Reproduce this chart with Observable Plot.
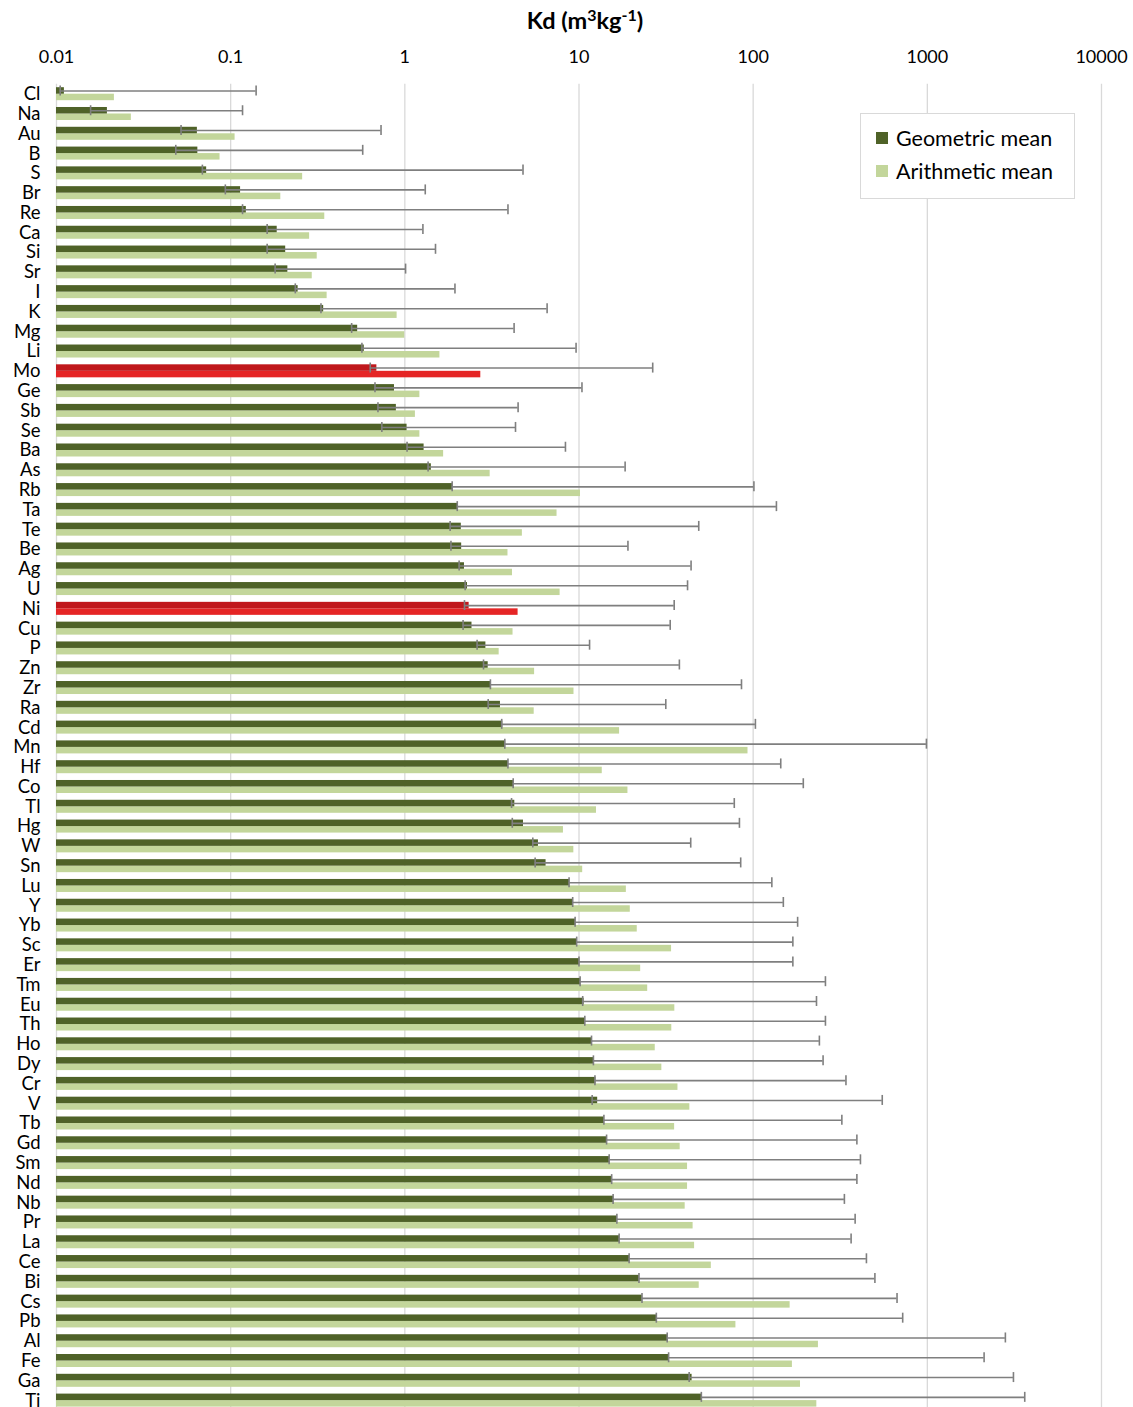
<!DOCTYPE html>
<html>
<head>
<meta charset="utf-8">
<script src="https://cdn.jsdelivr.net/npm/d3@7"></script>
<script src="https://cdn.jsdelivr.net/npm/@observablehq/plot@0.6"></script>
<style>
  html, body { margin: 0; padding: 0; background: #fff; font-family: Lato, "Open Sans", sans-serif; }
  #wrap { position: relative; width: 1133px; height: 1410px; overflow: hidden; }
  #title { height: 38px; line-height: 40px; padding-left: 37px; text-align: center;
           font-weight: bold; font-size: 23.5px; color: #000; white-space: nowrap; }
  #title sup { font-size: 16px; vertical-align: 8px; line-height: 0; }
  #chart { display: block; }
  #chart svg { display: block; }
  #legend { position: absolute; left: 860px; top: 113px; width: 213px; height: 84px; border: 1.5px solid #d9d9d9;
            background: #fff; font-size: 21.5px; color: #000; }
  .item { position: absolute; left: 15px; display: flex; align-items: center; white-space: nowrap; }
  .sw { width: 12px; height: 12px; margin-right: 8px; }
</style>
</head>
<body>
<div id="wrap">
  <div id="title">Kd (m<sup>3</sup>kg<sup>-1</sup>)</div>
  <div id="chart"></div>
  <div id="legend"></div>
</div>
<script>
// Distribution coefficients per element, in m3/kg
const elements = ["Cl","Na","Au","B","S","Br","Re","Ca","Si","Sr",
  "I","K","Mg","Li","Mo","Ge","Sb","Se","Ba","As",
  "Rb","Ta","Te","Be","Ag","U","Ni","Cu","P","Zn",
  "Zr","Ra","Cd","Mn","Hf","Co","Tl","Hg","W","Sn",
  "Lu","Y","Yb","Sc","Er","Tm","Eu","Th","Ho","Dy",
  "Cr","V","Tb","Gd","Sm","Nd","Nb","Pr","La","Ce",
  "Bi","Cs","Pb","Al","Fe","Ga","Ti"];

const geometric = [0.0111,0.0196,0.0644,0.0648,0.0728,0.114,0.123,0.185,0.207,0.213,
  0.244,0.342,0.536,0.585,0.691,0.872,0.894,1.03,1.29,1.42,
  1.88,2.01,2.11,2.12,2.20,2.29,2.34,2.43,2.92,3.01,
  3.13,3.54,3.65,3.79,3.93,4.22,4.28,4.80,5.85,6.47,
  8.84,9.25,9.54,9.76,10.1,10.2,10.7,10.9,11.9,12.2,
  12.5,12.8,14.0,14.5,15.0,15.5,15.8,16.6,17.1,19.5,
  22.2,23.1,27.9,32.2,32.8,44.6,50.6];

const lower = [0.0105,0.0157,0.0519,0.0484,0.0688,0.0932,0.117,0.162,0.162,0.180,
  0.235,0.330,0.495,0.567,0.633,0.674,0.701,0.738,1.03,1.36,
  1.87,2.00,1.82,1.84,2.05,2.22,2.20,2.16,2.60,2.83,
  3.10,3.01,3.60,3.75,3.91,4.19,4.10,4.14,5.43,5.60,
  8.77,9.20,9.50,9.70,10.0,10.15,10.5,10.8,11.8,12.1,
  12.35,11.9,13.9,14.4,14.9,15.4,15.7,16.5,17.0,19.4,
  22.1,23.0,27.8,32.1,32.7,42.9,50.4];

const upper = [0.140,0.117,0.730,0.573,4.77,1.31,3.91,1.27,1.50,1.01,
  1.94,6.56,4.24,9.62,26.5,10.4,4.47,4.32,8.36,18.4,
  101,136,48.7,19.1,44.0,42.0,35.2,33.4,11.5,37.7,
  85.7,31.5,103,988,144,194,77.9,83.4,43.8,84.8,
  128,149,180,169,169,260,231,260,240,252,
  341,551,323,394,413,394,334,385,365,447,
  500,670,722,2806,2118,3122,3625];

const arithmetic = [0.0215,0.0269,0.106,0.0869,0.259,0.194,0.347,0.284,0.314,0.294,
  0.358,0.903,0.999,1.59,2.73,1.22,1.15,1.22,1.67,3.09,
  10.2,7.48,4.73,3.91,4.15,7.79,4.47,4.18,3.48,5.56,
  9.36,5.53,17.1,93.4,13.6,19.1,12.6,8.14,9.34,10.5,
  18.7,19.7,21.6,34.0,22.6,24.8,35.5,34.1,27.4,29.9,
  37.0,43.3,35.4,38.1,42.0,42.0,40.7,45.2,46.1,57.5,
  49.0,163,79.6,237,168,187,232];

const highlighted = ["Mo", "Ni"];
const xTicks = [0.01, 0.1, 1, 10, 100, 1000, 10000];
const seriesNames = ["Geometric mean", "Arithmetic mean"];

const colors = {
  geo: "#4f6228", arith: "#c3d69b",
  geoHi: "#c0181c", arithHi: "#e52525",
  err: "#7f7f7f", grid: "#d9d9d9"
};

const rows = elements.map((element, i) => ({
  element,
  geo: geometric[i],
  lo: lower[i],
  hi: upper[i],
  arith: arithmetic[i],
  geoFill: highlighted.includes(element) ? colors.geoHi : colors.geo,
  arithFill: highlighted.includes(element) ? colors.arithHi : colors.arith
}));

// each band holds two stacked half-bars: geometric on top, arithmetic below
const step = 19.79;
const barH = 6.5;
const pad = (step - 2 * barH) / 2;
const geoTop = pad, geoBottom = step - pad - barH;
const arTop = pad + barH, arBottom = pad;
const errDy = (pad + barH / 2) - step / 2;
const capH = 10;
const capTop = pad + barH / 2 - capH / 2;
const capBottom = step - capTop - capH;

const chart = Plot.plot({
  width: 1133,
  height: 1372,
  marginLeft: 56,
  marginRight: 32,
  marginTop: 45.8,
  marginBottom: 0,
  style: { fontFamily: "Lato, 'Open Sans', sans-serif", fontSize: "18px", color: "#000", background: "#fff", overflow: "visible" },
  x: { type: "log", domain: [0.01, 10000] },
  y: { domain: elements, padding: 0 },
  color: { type: "identity" },
  marks: [
    Plot.gridX(xTicks, { stroke: colors.grid, strokeOpacity: 1, strokeWidth: 1.3 }),
    Plot.axisX(xTicks, { anchor: "top", tickSize: 0, tickPadding: 21, fontSize: 18, label: null,
      tickFormat: d => String(d) }),
    Plot.axisY({ tickSize: 0, tickPadding: 16, fontSize: 18.5, label: null }),
    Plot.barX(rows, { x1: 0.01, x2: "arith", y: "element", fill: "arithFill",
      insetTop: arTop, insetBottom: arBottom }),
    Plot.barX(rows, { x1: 0.01, x2: "geo", y: "element", fill: "geoFill",
      insetTop: geoTop, insetBottom: geoBottom }),
    Plot.ruleY(rows, { x1: "lo", x2: "hi", y: "element", dy: errDy, stroke: colors.err, strokeWidth: 1.6 }),
    Plot.tickX(rows, { x: "lo", y: "element", stroke: colors.err, strokeWidth: 1.6,
      insetTop: capTop, insetBottom: capBottom }),
    Plot.tickX(rows, { x: "hi", y: "element", stroke: colors.err, strokeWidth: 1.6,
      insetTop: capTop, insetBottom: capBottom })
  ]
});
document.getElementById("chart").appendChild(chart);

// legend box
const legend = document.getElementById("legend");
[[seriesNames[0], colors.geo, 24], [seriesNames[1], colors.arith, 57]].forEach(([name, color, cy]) => {
  const item = document.createElement("div");
  item.className = "item";
  item.style.top = (cy - 13) + "px";
  item.style.height = "26px";
  const sw = document.createElement("span");
  sw.className = "sw";
  sw.style.background = color;
  const label = document.createElement("span");
  label.textContent = name;
  item.appendChild(sw);
  item.appendChild(label);
  legend.appendChild(item);
});
</script>
</body>
</html>
